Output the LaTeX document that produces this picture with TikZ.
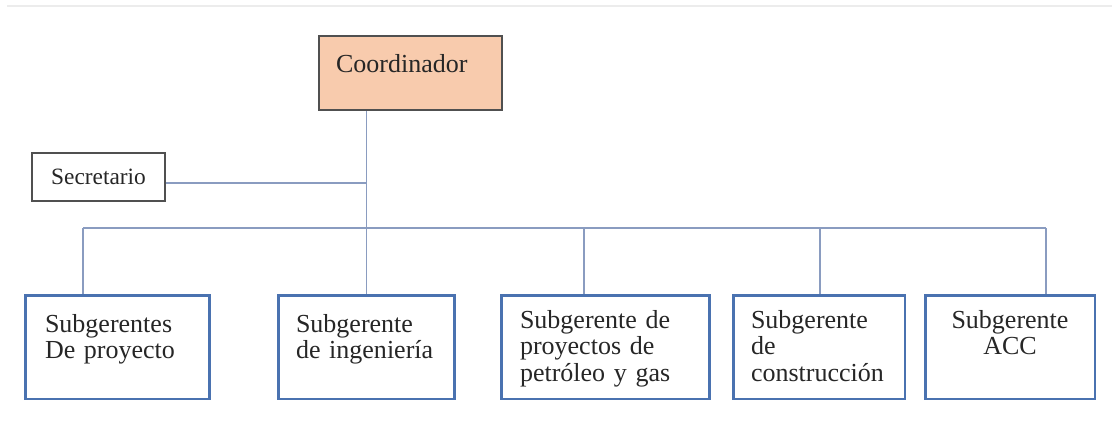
\documentclass[tikz,border=0pt]{standalone}
\usepackage{fontspec}
\setmainfont{Liberation Serif}
\usetikzlibrary{positioning}

\definecolor{peach}{HTML}{F8CBAD}
\definecolor{boxblue}{HTML}{4A72B0}
\definecolor{linkblue}{HTML}{8A9CC0}
\definecolor{darkline}{HTML}{505050}

\begin{document}
\begin{tikzpicture}[x=0.02cm, y=-0.02cm,
  every node/.style={font=\fontsize{14.8}{15.2}\selectfont, text=black!85},
  link/.style={draw=linkblue, line width=0.9pt},
  unit/.style={draw=boxblue, line width=1.7pt, minimum height=2.08cm,
    text height=0.35cm, align=left, inner xsep=0.38cm}]

  \useasboundingbox (0,0) rectangle (1112,423);
  \draw[gray!15, line width=0.04cm] (7,6) -- (1112,6);

  % top level
  \node[draw=darkline, fill=peach, line width=1.3pt, minimum width=3.66cm,
    minimum height=1.48cm, inner xsep=0.34cm, text width=2.98cm, align=left,
    text height=0.35cm, text depth=0.39cm] (coord) at (410.5,73) {Coordinador};
  \node[draw=darkline, line width=1.1pt, minimum width=2.66cm, minimum height=0.96cm,
    font=\fontsize{13.3}{14}\selectfont] (sec) at (98.5,177) {Secretario};

  % subgerentes
  \node[unit, minimum width=3.7cm, text width=2.9cm, inner xsep=0.4cm,
    text depth=0.95cm] (b1) at (117.5,347) {Subgerentes\\De proyecto};
  \node[unit, minimum width=3.54cm, text width=2.82cm, inner xsep=0.36cm,
    text depth=0.95cm] (b2) at (366.5,347) {Subgerente\\de ingeniería};
  \node[unit, minimum width=4.18cm, text width=3.42cm,
    text depth=1.11cm] (b3) at (605.5,347) {Subgerente de\\proyectos de\\petróleo y gas};
  \node[unit, minimum width=3.44cm, text width=2.72cm, inner xsep=0.36cm,
    text depth=1.11cm] (b4) at (819,347) {Subgerente\\de\\construcción};
  \node[unit, minimum width=3.4cm, text width=2.64cm, align=center,
    text depth=1.11cm] (b5) at (1010,347) {Subgerente\\ACC};

  % connectors
  \coordinate (t1) at (83,228);
  \coordinate (t3) at (584,228);
  \coordinate (t4) at (820,228);
  \coordinate (t5) at (1046,228);

  \draw[link] (coord.south -| b2.north) -- (b2.north);
  \draw[link] ([yshift=-0.12cm]sec.east) -- ([yshift=-0.12cm]sec.east -| b2.north);
  \draw[link] (t1) -- (t5);
  \foreach \t/\b in {t1/b1, t3/b3, t4/b4, t5/b5} {
    \draw[link] (\t) -- (\t |- \b.north);
  }

\end{tikzpicture}
\end{document}
